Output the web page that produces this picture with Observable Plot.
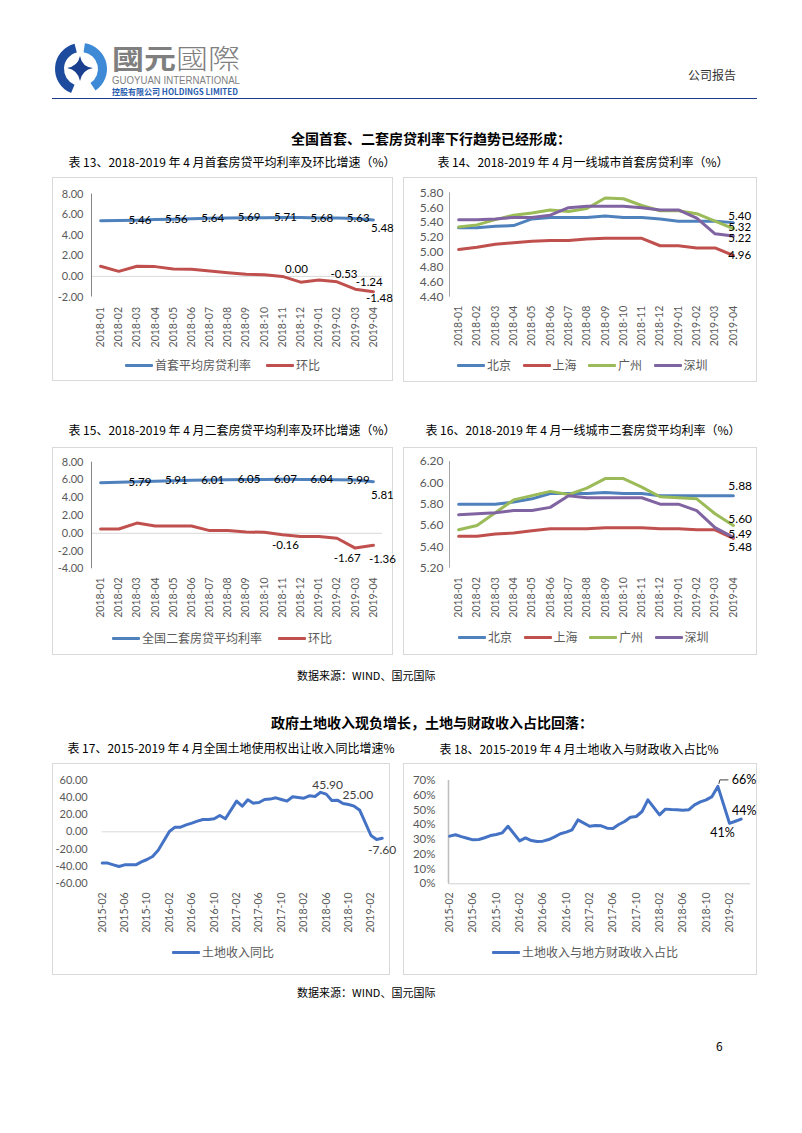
<!DOCTYPE html>
<html><head><meta charset="utf-8">
<script src="https://cdn.jsdelivr.net/npm/d3@7"></script>
<script src="https://cdn.jsdelivr.net/npm/@observablehq/plot@0.6"></script>
<style>
body{margin:0;background:#fff;}
#page{position:relative;width:802px;height:1133px;overflow:hidden;background:#fff;font-family:"Noto Sans CJK SC",sans-serif;}
.box{position:absolute;border:1px solid #d9d9d9;box-sizing:border-box;}
.title{position:absolute;font-size:12px;line-height:14px;color:#000;white-space:nowrap;transform:translateX(-50%);}
.sec{position:absolute;font-size:14px;line-height:16px;font-weight:bold;color:#000;white-space:nowrap;transform:translateX(-50%);}
.note{position:absolute;font-size:11px;line-height:13px;color:#000;white-space:nowrap;}
.legend{position:absolute;display:flex;align-items:center;font-size:12px;line-height:14px;color:#595959;white-space:nowrap;transform:translateY(-50%);font-family:"Noto Sans CJK SC",sans-serif;}
.legend .item{display:flex;align-items:center;}
.sw{display:inline-block;width:28px;height:3px;margin-right:2px;border-radius:1px;}
</style></head>
<body><div id="page"></div>
<script>
// ---------------- data ----------------
const months16 = ["2018-01","2018-02","2018-03","2018-04","2018-05","2018-06","2018-07","2018-08","2018-09","2018-10","2018-11","2018-12","2019-01","2019-02","2019-03","2019-04"];

// 表13
const firstRate = [5.40,5.42,5.46,5.52,5.56,5.60,5.64,5.67,5.69,5.70,5.71,5.71,5.68,5.66,5.63,5.48];
const firstMoM  = [0.98,0.49,0.98,0.95,0.72,0.69,0.52,0.36,0.20,0.16,0.00,-0.56,-0.36,-0.53,-1.24,-1.48];
const c13YTicks = [-2,0,2,4,6,8];
const c13Names = ["首套平均房贷利率","环比"];

// 表14
const cityNames = ["北京","上海","广州","深圳"];
const bj1 = [5.33,5.33,5.35,5.36,5.45,5.47,5.47,5.47,5.49,5.47,5.47,5.45,5.42,5.42,5.42,5.40];
const sh1 = [5.04,5.07,5.11,5.13,5.15,5.16,5.16,5.18,5.19,5.19,5.19,5.09,5.09,5.06,5.06,4.96];
const gz1 = [5.34,5.37,5.44,5.50,5.53,5.57,5.55,5.59,5.73,5.72,5.63,5.56,5.56,5.52,5.42,5.32];
const sz1 = [5.44,5.44,5.45,5.47,5.47,5.50,5.60,5.62,5.62,5.62,5.60,5.57,5.57,5.46,5.25,5.22];
const c14YTicks = [4.4,4.6,4.8,5.0,5.2,5.4,5.6,5.8];

// 表15
const secondRate = [5.70,5.74,5.79,5.85,5.91,5.96,6.01,6.03,6.05,6.06,6.07,6.06,6.04,6.02,5.99,5.81];
const secondMoM  = [0.48,0.48,1.15,0.81,0.81,0.81,0.30,0.30,0.15,0.11,-0.16,-0.37,-0.37,-0.56,-1.67,-1.36];
const c15YTicks = [-4,-2,0,2,4,6,8];
const c15Names = ["全国二套房贷平均利率","环比"];

// 表16
const bj2 = [5.80,5.80,5.80,5.82,5.85,5.90,5.90,5.90,5.91,5.90,5.90,5.88,5.88,5.88,5.88,5.88];
const sh2 = [5.50,5.50,5.52,5.53,5.55,5.57,5.57,5.57,5.58,5.58,5.58,5.57,5.57,5.56,5.56,5.48];
const gz2 = [5.56,5.60,5.72,5.84,5.88,5.92,5.89,5.95,6.04,6.04,5.96,5.87,5.86,5.85,5.71,5.60];
const sz2 = [5.70,5.71,5.72,5.74,5.74,5.77,5.88,5.86,5.86,5.86,5.86,5.80,5.80,5.74,5.58,5.49];
const c16YTicks = [5.2,5.4,5.6,5.8,6.0,6.2];

// 表17 / 表18 (monthly, January has no reading)
const months51 = ["2015-02","2015-03","2015-04","2015-05","2015-06","2015-07","2015-08","2015-09","2015-10","2015-11","2015-12",
"2016-01","2016-02","2016-03","2016-04","2016-05","2016-06","2016-07","2016-08","2016-09","2016-10","2016-11","2016-12",
"2017-01","2017-02","2017-03","2017-04","2017-05","2017-06","2017-07","2017-08","2017-09","2017-10","2017-11","2017-12",
"2018-01","2018-02","2018-03","2018-04","2018-05","2018-06","2018-07","2018-08","2018-09","2018-10","2018-11","2018-12",
"2019-01","2019-02","2019-03","2019-04"];
const landYoY = [-36.4,-36.4,-38.4,-40.3,-38.4,-38.4,-38.4,-34.9,-32.2,-28.7,-21.4,
null,0.4,5.4,5.4,8.1,10.1,12.4,14.3,14.3,15.1,19.0,15.1,
null,35.7,29.8,37.2,33.3,34.1,37.6,38.0,39.5,37.6,35.7,40.7,
null,39.1,41.9,41.1,45.9,43.8,36.4,36.8,32.9,31.8,29.8,25.0,
null,-4.3,-8.9,-7.6];
const landShare = [32.3,33.2,32.0,30.9,29.8,30.0,31.2,32.7,33.4,34.5,39.0,
null,29.1,31.1,29.3,28.6,28.9,30.0,31.8,33.9,35.0,36.6,43.3,
null,39.0,39.5,39.3,37.7,37.5,40.2,42.2,45.1,45.6,49.0,56.9,
null,46.7,50.6,50.3,50.1,49.9,50.1,53.5,55.5,56.9,59.1,66.0,
null,41.0,42.4,43.8];
const c17Ticks = ["2015-02","2015-06","2015-10","2016-02","2016-06","2016-10","2017-02","2017-06","2017-10","2018-02","2018-06","2018-10","2019-02"];
const c17YTicks = [-60,-40,-20,0,20,40,60];
const c18YTicks = [0,10,20,30,40,50,60,70];
const c17Name = ["土地收入同比"];
const c18Name = ["土地收入与地方财政收入占比"];

// labelled points
const c13RateLabels = [{i:2,pos:"on"},{i:4,pos:"on"},{i:6,pos:"on"},{i:8,pos:"on"},{i:10,pos:"on"},{i:12,pos:"on"},{i:14,pos:"on"},{i:15,pos:"br"}];
const c13MoMLabels = [{i:10,pos:"ar"},{i:13,pos:"a"},{i:14,pos:"ar"},{i:15,pos:"b"}];
const c15RateLabels = [{i:2,pos:"on"},{i:4,pos:"on"},{i:6,pos:"on"},{i:8,pos:"on"},{i:10,pos:"on"},{i:12,pos:"on"},{i:14,pos:"on"},{i:15,pos:"br"}];
const c15MoMLabels = [{i:10,pos:"b"},{i:14,pos:"bl"},{i:15,pos:"br"}];
const c17Labels = [{i:39,pos:"a"},{i:46,pos:"aa"},{i:50,pos:"b"}];
const c18Labels = [{i:46,pos:"lead"},{i:48,pos:"bl"},{i:50,pos:"a"}];

// ---------------- styles ----------------
const BLUE="#4F81BD", RED="#C0504D", GREEN="#9BBB59", PURPLE="#8064A2", LAND="#4472C4";
const page = document.getElementById("page");
const baseStyle = {background:"transparent", fontFamily:"Lato, 'Noto Sans CJK SC', sans-serif", fontSize:"11px", color:"#595959", overflow:"visible"};
const f2 = v => v.toFixed(2);
const rows = vals => vals.map((v,i)=>({i, v})).filter(d => d.v != null);

function el(tag, cls, html, css){ const e=document.createElement(tag); if(cls) e.className=cls; e.innerHTML=html; Object.assign(e.style, css); page.appendChild(e); return e; }
function place(svg, left, top){ svg.style.position="absolute"; svg.style.left=left+"px"; svg.style.top=top+"px"; page.appendChild(svg); }
function axisFont(svg, axis, size, color){
  svg.querySelectorAll(`[aria-label^="${axis}-axis"] text`).forEach(t=>{ t.style.fontSize=size+"px"; if(color) t.style.fill=color; });
}
function labelMarks(spec, values, offsets, fmt, opts){
  const groups = d3.group(spec, d=>d.pos);
  return Array.from(groups, ([pos, arr]) => Plot.text(arr.map(d=>({i:d.i, v:values[d.i]})),
    {x:"i", y:"v", text: d=>fmt(d.v), ...offsets[pos], ...opts}));
}
function legend(names, colors, left, top, gap){
  const d = el("div","legend","",{left:left+"px", top:top+"px", gap:gap+"px"});
  names.forEach((n,k)=>{ const s=document.createElement("span"); s.className="item"; s.innerHTML=`<span class="sw" style="background:${colors[k]}"></span>${n}`; d.appendChild(s); });
}
const xCat = (tickPadding) => ({domain:[-0.5,15.5], ticks:d3.range(months16.length), tickFormat:i=>months16[i], tickRotate:-90, tickSize:0, tickPadding, label:null});

// ---------------- header ----------------
el("div","",`
<svg width="802" height="110" style="position:absolute;left:0;top:0">
  <g transform="translate(81,69)">
    <path d="${d3.arc()({innerRadius:17,outerRadius:26,startAngle:-2.75,endAngle:-0.25})}" fill="#1d4c9e"/>
    <path d="${d3.arc()({innerRadius:17,outerRadius:26,startAngle:0.15,endAngle:2.55})}" fill="#3f8ad6"/>
    <path d="M-1,-13 Q1,-2 12,-1 Q1,1 -1,12 Q-3,1 -14,-1 Q-3,-3 -1,-13 Z" fill="#1a3f8f"/>
  </g>
  <text x="112" y="69" font-family="'Noto Sans CJK TC',sans-serif" font-size="27" fill="#7f7f7f" textLength="128" lengthAdjust="spacingAndGlyphs"><tspan font-weight="700">國元</tspan><tspan font-weight="300">國際</tspan></text>
  <text x="112" y="84" font-family="'Liberation Sans',sans-serif" font-size="10.5" fill="#7f7f7f" textLength="128" lengthAdjust="spacingAndGlyphs">GUOYUAN INTERNATIONAL</text>
  <text x="112" y="94.5" font-family="'Noto Sans CJK SC',sans-serif" font-size="8.5" font-weight="700" fill="#2a5db0" textLength="126" lengthAdjust="spacingAndGlyphs">控股有限公司 HOLDINGS LIMITED</text>
  <line x1="52" x2="757" y1="98.5" y2="98.5" stroke="#1f3c88" stroke-width="1.2"/>
  <text x="688" y="80" font-family="'Noto Sans CJK SC',sans-serif" font-size="12" fill="#333">公司报告</text>
</svg>`,{});

// ---------------- text ----------------
el("div","sec","全国首套、二套房贷利率下行趋势已经形成：",{left:"431px", top:"130px"});
el("div","title","表 13、2018-2019 年 4 月首套房贷平均利率及环比增速（%）",{left:"232px", top:"155px"});
el("div","title","表 14、2018-2019 年 4 月一线城市首套房贷利率（%）",{left:"583px", top:"155px"});
el("div","title","表 15、2018-2019 年 4 月二套房贷平均利率及环比增速（%）",{left:"232px", top:"423px"});
el("div","title","表 16、2018-2019 年 4 月一线城市二套房贷平均利率（%）",{left:"583px", top:"423px"});
el("div","note","数据来源：WIND、国元国际",{left:"297px", top:"669px"});
el("div","sec","政府土地收入现负增长，土地与财政收入占比回落：",{left:"432px", top:"714px"});
el("div","title","表 17、2015-2019 年 4 月全国土地使用权出让收入同比增速%",{left:"231px", top:"741px"});
el("div","title","表 18、2015-2019 年 4 月土地收入与财政收入占比%",{left:"579px", top:"742px"});
el("div","note","数据来源：WIND、国元国际",{left:"297px", top:"986px"});
el("div","note","6",{left:"716px", top:"1039px", fontSize:"12px"});

// boxes
[[52,177,341,204],[403,177,354,205],[52,447,341,208],[403,447,354,208],[52,763,338,212],[403,763,354,212]]
  .forEach(([l,t,w,h])=>el("div","box","",{left:l+"px",top:t+"px",width:w+"px",height:h+"px"}));

// ---------------- 表13 ----------------
{
  const off = {on:{dx:3,dy:0}, br:{dx:9,dy:8}, ar:{dx:14,dy:-7}, a:{dx:7,dy:-8}, b:{dx:6,dy:7}};
  const svg = Plot.plot({
    width:341, height:175, marginLeft:39, marginRight:11, marginTop:16.5, marginBottom:55.5, style:baseStyle,
    x: xCat(10),
    y: {domain:[-2,8], ticks:c13YTicks, tickFormat:f2, tickSize:0, tickPadding:8, label:null},
    marks:[
      Plot.ruleY([0],{stroke:"#d9d9d9"}),
      Plot.ruleX([-0.5],{stroke:"#868686"}),
      Plot.line(rows(firstRate),{x:"i",y:"v",stroke:BLUE,strokeWidth:3}),
      Plot.line(rows(firstMoM),{x:"i",y:"v",stroke:RED,strokeWidth:3}),
      ...labelMarks(c13RateLabels, firstRate, off, f2, {fill:"#000", fontSize:11.5}),
      ...labelMarks(c13MoMLabels, firstMoM, off, f2, {fill:"#000", fontSize:11.5})
    ]});
  axisFont(svg,"x",10.5); axisFont(svg,"y",11);
  place(svg,52,177);
  legend(c13Names,[BLUE,RED],125,365,15);
}

// ---------------- 表14 ----------------
{
  const series = [bj1,sh1,gz1,sz1], colors=[BLUE,RED,GREEN,PURPLE];
  const endDy = [-6.5,0,-1.5,2];
  const svg = Plot.plot({
    width:354, height:175, marginLeft:46, marginRight:15, marginTop:15.3, marginBottom:55.3, style:baseStyle,
    x: xCat(8.5),
    y: {domain:[4.4,5.8], ticks:c14YTicks, tickFormat:f2, tickSize:0, tickPadding:6, label:null},
    marks:[
      Plot.ruleX([-0.5],{stroke:"#a6a6a6"}),
      ...series.map((s,k)=>Plot.line(rows(s),{x:"i",y:"v",stroke:colors[k],strokeWidth:3})),
      ...series.map((s,k)=>Plot.text([{i:15,v:s[15]}],{x:"i",y:"v",text:d=>f2(d.v),textAnchor:"start",dx:-5,dy:endDy[k],fill:"#000",fontSize:11.5}))
    ]});
  axisFont(svg,"x",10.5); axisFont(svg,"y",12);
  place(svg,403,177);
  legend(cityNames,colors,457,365,11.5);
}

// ---------------- 表15 ----------------
{
  const off = {on:{dx:3,dy:0}, br:{dx:9,dy:14}, b:{dx:3,dy:11}, bl:{dx:-8,dy:10}};
  const svg = Plot.plot({
    width:341, height:175, marginLeft:39, marginRight:11, marginTop:14.7, marginBottom:53.7, style:baseStyle,
    x: xCat(8.5),
    y: {domain:[-4,8], ticks:c15YTicks, tickFormat:f2, tickSize:0, tickPadding:8, label:null},
    marks:[
      Plot.ruleY([0],{stroke:"#d9d9d9"}),
      Plot.ruleX([-0.5],{stroke:"#868686"}),
      Plot.line(rows(secondRate),{x:"i",y:"v",stroke:BLUE,strokeWidth:3}),
      Plot.line(rows(secondMoM),{x:"i",y:"v",stroke:RED,strokeWidth:3}),
      ...labelMarks(c15RateLabels, secondRate, off, f2, {fill:"#000", fontSize:11.5}),
      ...labelMarks(c15MoMLabels, secondMoM, off, f2, {fill:"#000", fontSize:11.5})
    ]});
  axisFont(svg,"x",10.5); axisFont(svg,"y",11);
  place(svg,52,447);
  legend(c15Names,[BLUE,RED],112,638,16);
}

// ---------------- 表16 ----------------
{
  const series = [bj2,sh2,gz2,sz2], colors=[BLUE,RED,GREEN,PURPLE];
  const endDy = [-9.5,9,-6.5,-3];
  const svg = Plot.plot({
    width:354, height:175, marginLeft:46, marginRight:15, marginTop:14, marginBottom:54.3, style:baseStyle,
    x: xCat(9),
    y: {domain:[5.2,6.2], ticks:c16YTicks, tickFormat:f2, tickSize:0, tickPadding:6, label:null},
    marks:[
      Plot.ruleX([-0.5],{stroke:"#a6a6a6"}),
      ...series.map((s,k)=>Plot.line(rows(s),{x:"i",y:"v",stroke:colors[k],strokeWidth:3})),
      ...series.map((s,k)=>Plot.text([{i:15,v:s[15]}],{x:"i",y:"v",text:d=>f2(d.v),textAnchor:"start",dx:-5,dy:endDy[k],fill:"#000",fontSize:12}))
    ]});
  axisFont(svg,"x",10.5); axisFont(svg,"y",12);
  place(svg,403,447);
  legend(cityNames,colors,458,637,11.5);
}

// ---------------- 表17 ----------------
{
  const off = {a:{dx:7,dy:-7}, aa:{dx:-2,dy:-15}, b:{dx:0,dy:12}};
  const svg = Plot.plot({
    width:338, height:175, marginLeft:49.7, marginRight:8.3, marginTop:16.7, marginBottom:55.1, style:baseStyle,
    x: {domain:[0,50], ticks:c17Ticks.map(t=>months51.indexOf(t)), tickFormat:i=>months51[i], tickRotate:-90, tickSize:0, tickPadding:9, label:null},
    y: {domain:[-60,60], ticks:c17YTicks, tickFormat:f2, tickSize:0, tickPadding:14.5, label:null},
    marks:[
      Plot.ruleY([0],{stroke:"#d9d9d9"}),
      Plot.line(rows(landYoY),{x:"i",y:"v",stroke:LAND,strokeWidth:3}),
      ...labelMarks(c17Labels, landYoY, off, f2, {fill:"#404040", fontSize:12})
    ]});
  axisFont(svg,"x",10.5); axisFont(svg,"y",11);
  place(svg,52,763);
  legend(c17Name,[LAND],172,952,0);
}

// ---------------- 表18 ----------------
{
  const off = {lead:{dx:14,dy:-6,textAnchor:"start"}, bl:{dx:-7,dy:10}, a:{dx:3,dy:-8}};
  const pct = v => Math.round(v)+"%";
  const leadI = c18Labels.find(d=>d.pos==="lead").i;
  const svg = Plot.plot({
    width:354, height:175, marginLeft:45, marginRight:7, marginTop:17, marginBottom:54.7, style:baseStyle,
    x: {domain:[-0.2,51.6], ticks:c17Ticks.map(t=>months51.indexOf(t)), tickFormat:i=>months51[i], tickRotate:-90, tickSize:0, tickPadding:8.5, label:null},
    y: {domain:[0,70], ticks:c18YTicks, tickFormat:d=>d+"%", tickSize:0, tickPadding:13, label:null},
    marks:[
      Plot.ruleY([0],{stroke:"#d0d0d0"}),
      Plot.ruleX([-0.2],{stroke:"#bfbfbf",strokeWidth:1.6}),
      Plot.line(rows(landShare),{x:"i",y:"v",stroke:LAND,strokeWidth:3}),
      (index, scales) => {
        const x = scales.x(leadI), y = scales.y(landShare[leadI]);
        const p = document.createElementNS("http://www.w3.org/2000/svg","path");
        p.setAttribute("d",`M${x+1.5},${y-2}L${x+2.5},${y-6}L${x+11},${y-6}`);
        p.setAttribute("fill","none"); p.setAttribute("stroke","#404040"); p.setAttribute("stroke-width","1");
        return p;
      },
      ...labelMarks(c18Labels, landShare, off, pct, {fill:"#000", fontSize:12.5})
    ]});
  axisFont(svg,"x",10.5); axisFont(svg,"y",11.5);
  place(svg,403,763);
  legend(c18Name,[LAND],492,952,0);
}
</script>
</body></html>
